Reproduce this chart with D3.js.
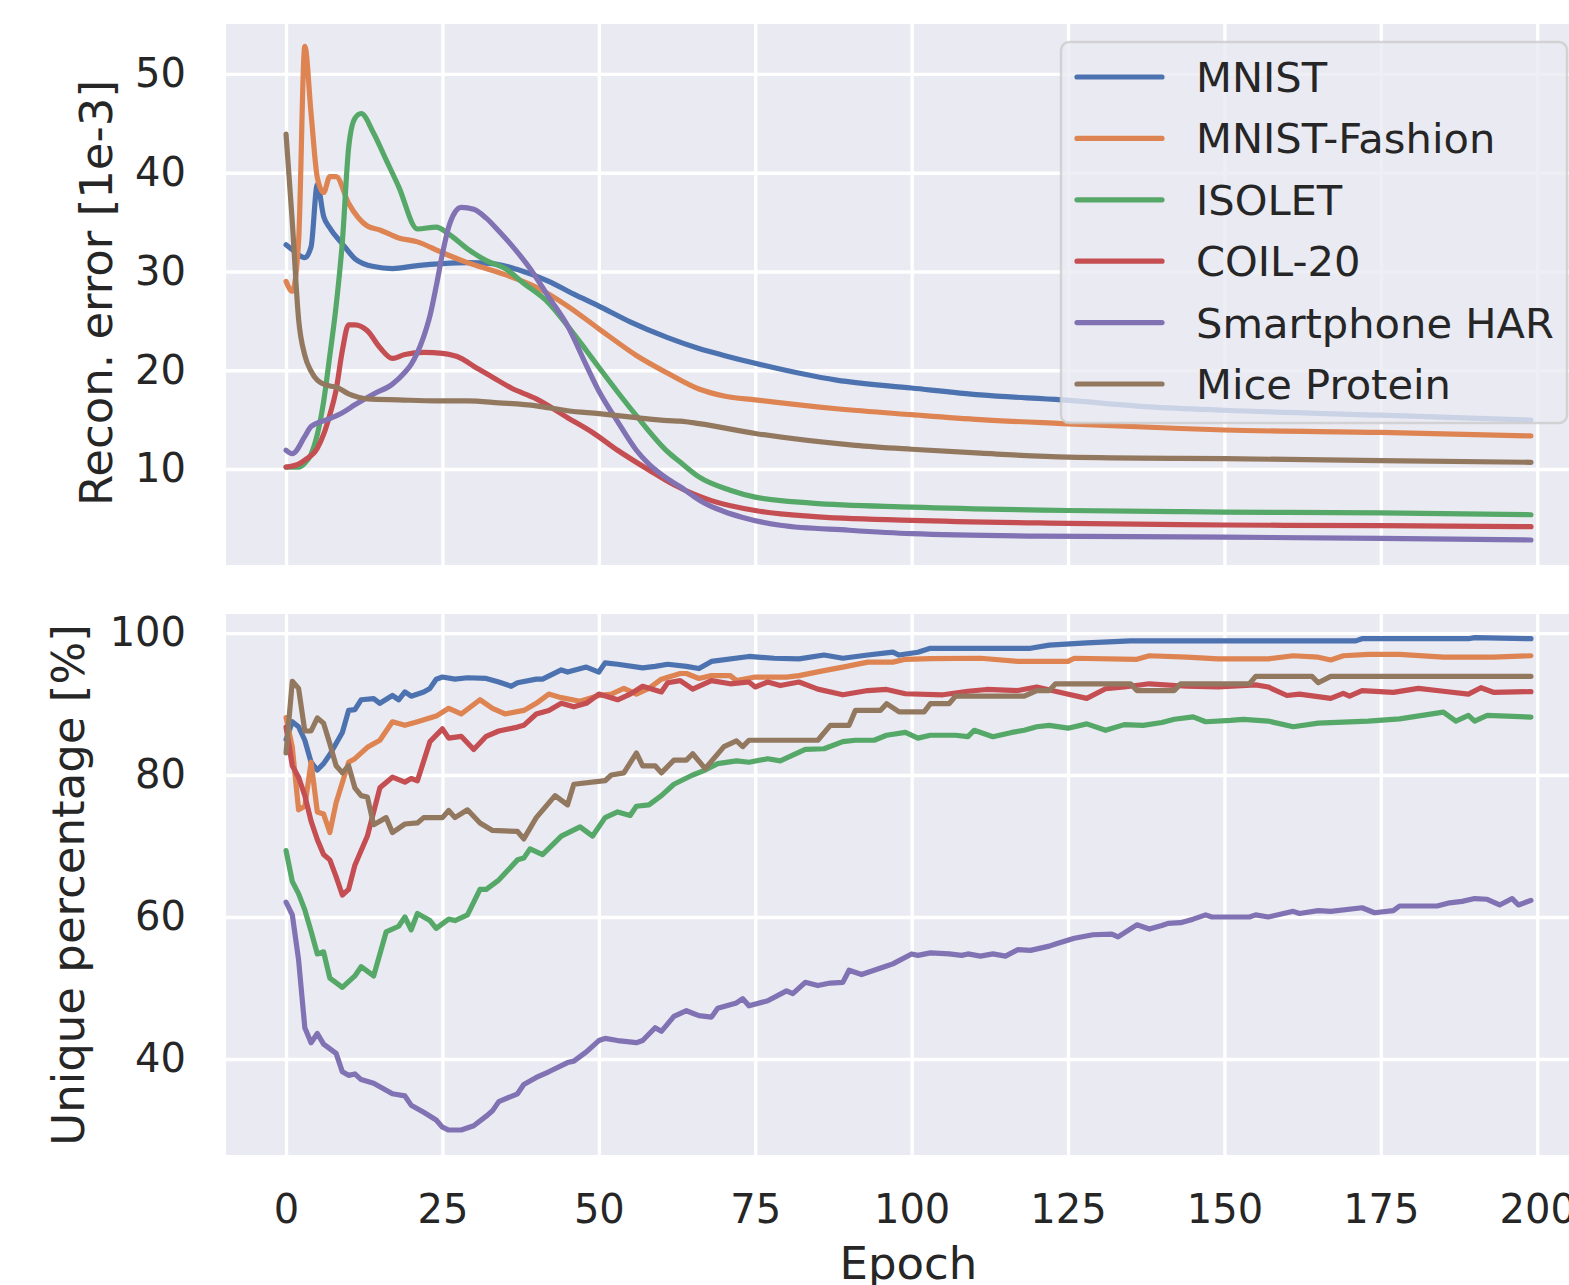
<!DOCTYPE html>
<html><head><meta charset="utf-8">
<script src="https://cdn.jsdelivr.net/npm/d3@7"></script>
<style>body{margin:0;background:#fff} svg{display:block;font-family:"DejaVu Sans",sans-serif}</style>
</head><body>
<svg id="chart" width="1569" height="1285"></svg>
<script>
const seriesNames = ["MNIST","MNIST-Fashion","ISOLET","COIL-20","Smartphone HAR","Mice Protein"];
const seriesColors = ["#4C72B0","#DD8452","#55A868","#C44E52","#8172B3","#937860"];
const xTicks = [0,25,50,75,100,125,150,175,200];
const reconTicks = [10,20,30,40,50];
const uniqueTicks = [40,60,80,100];

// Top panel: reconstruction error [1e-3], pairs [epoch, value]
const reconMNIST = [[0,32.7],[1,32.2],[3,31.4],[4,32.5],[5,38.8],[6,35.6],[7,34.4],[9,32.8],[11,31.3],[14,30.5],[17,30.3],[21,30.6],[25,30.8],[29,30.9],[33,30.8],[37,30.2],[42,29.0],[46,27.7],[50,26.5],[55,24.9],[61,23.3],[66,22.2],[70,21.5],[75,20.7],[88,19.0],[100,18.2],[111,17.5],[124,17.0],[138,16.3],[150,15.95],[175,15.45],[199,14.95]];
const reconFashion = [[0,29.0],[1,28.0],[2,33.0],[3,52.8],[4,46.0],[5,39.5],[6,38.0],[7,39.6],[8,39.6],[10,36.9],[13,34.6],[15,34.2],[18,33.4],[21,33.0],[25,31.9],[29,30.9],[34,29.9],[40,28.4],[45,26.5],[50,24.2],[56,21.5],[61,19.7],[66,18.1],[70,17.4],[75,17.0],[88,16.1],[100,15.5],[111,15.0],[124,14.6],[143,14.1],[150,13.95],[175,13.7],[199,13.35]];
const reconIsolet = [[0,10.2],[2,10.2],[3,10.6],[4,11.5],[5,13.5],[6,16.8],[7,21.5],[8,26.5],[9,33.0],[10,42.5],[11,45.5],[12,46.0],[14,44.0],[16,41.3],[18,38.6],[21,34.3],[24,34.5],[26,33.8],[29,32.3],[32,31.1],[35,30.3],[38,28.8],[42,26.8],[45,24.5],[48,22.0],[50,20.3],[53,17.8],[56,15.4],[61,11.75],[63,10.7],[66,9.2],[71,7.85],[75,7.15],[84,6.55],[100,6.15],[125,5.8],[143,5.68],[150,5.64],[175,5.55],[199,5.37]];
const reconCoil = [[0,10.2],[2,10.5],[3,10.9],[5,12.1],[6,13.5],[7,15.5],[8,18.0],[9,22.0],[10,24.6],[11,24.6],[13,24.0],[15,22.3],[17,21.2],[19,21.6],[22,21.8],[25,21.7],[28,21.2],[30,20.4],[33,19.3],[36,18.2],[40,17.1],[45,15.2],[49,13.7],[53,11.9],[58,9.9],[62,8.4],[65,7.5],[68,6.8],[75,5.8],[84,5.2],[100,4.8],[125,4.5],[143,4.36],[150,4.33],[175,4.26],[199,4.16]];
const reconHar = [[0,11.9],[1,11.55],[3,13.3],[4,14.3],[7,15.1],[9,15.7],[11,16.5],[14,17.6],[17,18.6],[19,19.8],[20,20.6],[22,23.4],[23,25.5],[24,28.5],[25,31.8],[26,34.5],[27,36.0],[28,36.5],[30,36.3],[32,35.4],[34,34.1],[36,32.7],[39,30.3],[42,27.4],[45,24.5],[48,20.5],[50,17.9],[53,14.8],[56,11.9],[58,10.5],[61,9.0],[63,8.2],[65,7.3],[67,6.5],[70,5.7],[73,5.1],[79,4.3],[90,3.8],[100,3.45],[120,3.2],[143,3.12],[150,3.1],[175,2.98],[199,2.81]];
const reconMice = [[0,43.9],[1,35.0],[2,25.2],[3,21.5],[4,19.9],[5,19.0],[7,18.4],[8,18.3],[10,17.6],[13,17.1],[18,17.0],[24,16.9],[29,16.9],[34,16.7],[40,16.4],[45,15.9],[50,15.6],[56,15.2],[61,14.9],[63,14.85],[66,14.6],[75,13.6],[91,12.4],[100,12.0],[111,11.6],[125,11.2],[143,11.07],[150,11.05],[175,10.84],[199,10.68]];

// Bottom panel: unique percentage [%], pairs [epoch, value]
const uniqueMNIST = [[0,85.0],[1,87.5],[2,86.8],[3,84.9],[4,81.8],[5,80.7],[6,81.6],[7,82.9],[9,86.0],[10,89.1],[11,89.2],[12,90.6],[14,90.75],[15,90.1],[17,91.2],[18,90.6],[19,91.7],[20,91.1],[22,91.7],[23,92.2],[24,93.5],[25,93.8],[27,93.5],[29,93.7],[32,93.6],[34,93.1],[36,92.5],[37,93.0],[40,93.5],[41,93.5],[44,94.8],[45,94.5],[48,95.2],[50,94.5],[51,95.8],[53,95.6],[57,95.1],[59,95.3],[61,95.6],[64,95.3],[66,95.0],[68,96.0],[74,96.7],[78,96.45],[82,96.35],[86,96.9],[89,96.45],[93,96.9],[97,97.3],[98,96.9],[101,97.3],[103,97.85],[119,97.85],[122,98.3],[128,98.6],[135,98.9],[171,98.9],[172,99.2],[189,99.2],[190,99.35],[199,99.2]];
const uniqueFashion = [[0,88.1],[1,83.9],[2,75.1],[3,75.6],[4,81.8],[5,74.8],[6,74.5],[7,71.9],[8,76.1],[10,81.8],[11,82.3],[13,83.9],[15,84.9],[17,87.5],[19,87.0],[21,87.5],[24,88.3],[26,89.4],[28,88.6],[31,90.6],[33,89.4],[35,88.6],[38,89.1],[40,90.1],[42,91.4],[44,90.9],[47,90.4],[50,91.2],[52,91.4],[54,92.2],[56,91.4],[58,92.2],[60,93.5],[63,94.3],[64,94.3],[66,93.6],[68,94.0],[71,94.0],[72,93.3],[75,93.8],[80,93.8],[82,94.0],[86,94.7],[89,95.2],[93,95.9],[97,95.9],[99,96.3],[103,96.4],[111,96.45],[117,96.0],[125,96.0],[126,96.45],[136,96.3],[138,96.8],[144,96.6],[149,96.35],[157,96.35],[161,96.8],[165,96.6],[167,96.2],[169,96.8],[173,97.0],[178,97.0],[185,96.6],[193,96.6],[199,96.8]];
const uniqueIsolet = [[0,69.35],[1,65.0],[2,63.3],[3,61.0],[4,58.0],[5,54.8],[6,55.1],[7,51.4],[9,50.1],[11,51.7],[12,53.0],[14,51.7],[16,57.9],[18,58.7],[19,60.0],[20,58.2],[21,60.5],[23,59.5],[24,58.4],[26,59.7],[27,59.5],[29,60.3],[31,63.9],[32,63.9],[34,65.2],[37,68.05],[38,68.3],[39,69.6],[41,68.8],[44,71.4],[47,72.7],[49,71.4],[51,74.0],[53,74.8],[55,74.3],[56,75.6],[58,75.8],[60,77.1],[62,78.7],[65,80.0],[67,80.7],[69,81.6],[72,82.0],[74,81.8],[77,82.3],[79,82.0],[81,82.8],[83,83.6],[86,83.7],[89,84.7],[91,84.9],[94,84.9],[96,85.6],[99,86.0],[101,85.2],[103,85.6],[107,85.6],[109,85.4],[110,86.3],[113,85.4],[116,86.0],[118,86.3],[120,86.8],[122,87.0],[125,86.6],[128,87.2],[131,86.3],[134,87.1],[137,87.0],[140,87.4],[142,87.85],[145,88.2],[147,87.5],[151,87.7],[153,87.85],[157,87.6],[161,86.8],[165,87.3],[173,87.6],[178,87.9],[185,88.85],[187,87.6],[189,88.4],[190,87.6],[192,88.4],[199,88.15]];
const uniqueCoil = [[0,86.75],[1,81.3],[2,79.7],[3,77.1],[4,73.5],[5,70.9],[6,68.8],[7,68.05],[8,65.7],[9,63.1],[10,63.9],[11,67.3],[13,71.4],[15,78.2],[17,79.7],[19,79.0],[20,79.5],[21,79.2],[23,84.7],[25,86.5],[26,85.2],[28,85.45],[30,83.6],[32,85.45],[34,86.2],[37,86.75],[38,87.0],[40,88.6],[42,89.1],[44,90.1],[46,89.6],[48,90.1],[50,91.4],[53,90.6],[55,91.4],[57,92.5],[60,91.7],[61,93.0],[63,93.3],[65,92.1],[68,93.3],[71,92.85],[74,93.1],[75,92.4],[77,93.1],[79,92.6],[82,93.1],[85,92.1],[89,91.3],[93,91.9],[96,92.05],[99,91.45],[105,91.3],[109,91.8],[112,92.05],[117,91.9],[120,92.4],[124,91.6],[128,90.8],[131,92.15],[134,92.4],[138,92.85],[144,92.5],[149,92.4],[155,92.7],[157,92.4],[160,91.2],[162,91.4],[167,90.8],[169,91.5],[170,91.1],[172,91.9],[177,91.65],[181,92.2],[185,91.8],[189,91.4],[191,92.3],[193,91.65],[199,91.75]];
const uniqueHar = [[0,62.1],[1,60.3],[2,54.0],[3,44.4],[4,42.3],[5,43.6],[6,42.1],[8,40.8],[9,38.2],[10,37.7],[11,37.9],[12,37.1],[14,36.6],[16,35.6],[17,35.1],[19,34.8],[20,33.5],[22,32.5],[24,31.4],[25,30.4],[26,30.0],[28,30.0],[30,30.6],[32,31.95],[33,32.7],[34,34.0],[37,35.1],[38,36.4],[40,37.4],[42,38.2],[45,39.5],[46,39.7],[48,41.0],[50,42.6],[51,42.9],[53,42.6],[56,42.3],[57,42.6],[59,44.4],[60,43.9],[62,46.0],[64,46.8],[66,46.1],[68,45.9],[69,47.15],[72,47.9],[73,48.5],[74,47.5],[77,48.2],[80,49.6],[81,49.2],[83,50.8],[85,50.35],[87,50.7],[89,50.8],[90,52.5],[92,51.9],[94,52.5],[96,53.1],[97,53.4],[100,54.8],[101,54.6],[103,54.95],[106,54.8],[108,54.6],[109,54.8],[111,54.5],[113,54.8],[115,54.5],[117,55.4],[119,55.3],[122,55.9],[123,56.2],[126,57.0],[129,57.5],[132,57.6],[133,57.2],[136,58.9],[138,58.3],[140,58.8],[141,59.1],[143,59.2],[145,59.7],[147,60.3],[148,60.0],[154,60.0],[155,60.3],[157,60.0],[161,60.8],[162,60.5],[165,60.9],[167,60.8],[172,61.3],[174,60.6],[177,60.9],[178,61.55],[184,61.55],[186,62.0],[188,62.2],[190,62.6],[192,62.5],[194,61.7],[196,62.6],[197,61.7],[199,62.35]];
const uniqueMice = [[0,83.1],[1,93.2],[2,92.2],[3,86.2],[4,86.2],[5,88.05],[6,87.3],[7,84.4],[8,81.3],[9,80.3],[10,81.3],[11,78.2],[12,77.1],[13,76.9],[14,73.0],[16,74.0],[17,71.9],[19,73.1],[21,73.25],[22,74.0],[25,74.0],[26,75.0],[27,74.0],[29,75.1],[31,73.25],[33,72.2],[37,72.05],[38,71.0],[40,74.0],[43,77.1],[45,75.8],[46,78.7],[51,79.2],[52,80.0],[54,80.3],[56,83.1],[57,81.3],[59,81.3],[60,80.3],[62,82.1],[64,82.1],[65,83.0],[67,80.9],[70,84.0],[72,84.8],[73,84.0],[74,84.9],[85,84.9],[87,87.0],[90,87.0],[91,89.1],[95,89.1],[96,90.05],[98,88.9],[102,88.9],[103,90.05],[106,90.05],[107,91.1],[118,91.1],[120,91.9],[122,91.9],[123,92.85],[135,92.85],[136,91.9],[142,91.9],[143,92.85],[154,92.85],[155,93.9],[164,93.9],[165,93.0],[167,93.9],[199,93.9]];

const reconSeries = [reconMNIST, reconFashion, reconIsolet, reconCoil, reconHar, reconMice];
const uniqueSeries = [uniqueMNIST, uniqueFashion, uniqueIsolet, uniqueCoil, uniqueHar, uniqueMice];

const svg = d3.select("#chart");
svg.append("rect").attr("width",1569).attr("height",1285).attr("fill","#ffffff");

const L = 226, R = 1591;
const x = d3.scaleLinear().domain([-9.6, 208.6]).range([L, R]);
const yTop = d3.scaleLinear().domain([0.28, 55.06]).range([565, 24]);
const yBot = d3.scaleLinear().domain([26.48, 102.68]).range([1155, 614]);
const textColor = "#262626";

function panel(y, ticks, series, curve, idx) {
  const [b, t] = y.range();
  const g = svg.append("g");
  g.append("rect").attr("x", L).attr("y", t).attr("width", R - L).attr("height", b - t).attr("fill", "#EAEAF2");
  const cid = "clip" + idx;
  svg.append("clipPath").attr("id", cid).append("rect").attr("x", L).attr("y", t).attr("width", R - L).attr("height", b - t);
  const gx = g.append("g").attr("transform", `translate(0,${b})`)
    .call(d3.axisBottom(x).tickValues(xTicks).tickSize(-(b - t)).tickFormat(""));
  gx.select(".domain").remove();
  gx.selectAll("line").attr("stroke", "#ffffff").attr("stroke-width", 3.3);
  const gy = g.append("g").attr("transform", `translate(${L},0)`)
    .call(d3.axisLeft(y).tickValues(ticks).tickSize(-(R - L)).tickPadding(40).tickFormat(d3.format("d")));
  gy.select(".domain").remove();
  gy.selectAll("line").attr("stroke", "#ffffff").attr("stroke-width", 3.3);
  gy.selectAll("text").attr("fill", textColor).attr("font-size", 40).attr("font-family", "DejaVu Sans");
  const line = d3.line().x(d => x(d[0])).y(d => y(d[1])).curve(curve);
  const lg = g.append("g").attr("clip-path", `url(#${cid})`);
  series.forEach((s, i) => {
    lg.append("path").datum(s).attr("d", line).attr("fill", "none")
      .attr("stroke", seriesColors[i]).attr("stroke-width", 5.2)
      .attr("stroke-linejoin", "round").attr("stroke-linecap", "round");
  });
  return g;
}

panel(yTop, reconTicks, reconSeries, d3.curveMonotoneX, 0);
panel(yBot, uniqueTicks, uniqueSeries, d3.curveLinear, 1);

const xa = svg.append("g").attr("transform", "translate(0,1155)")
  .call(d3.axisBottom(x).tickValues(xTicks).tickSize(0).tickPadding(40).tickFormat(d3.format("d")));
xa.select(".domain").remove();
xa.selectAll("text").attr("fill", textColor).attr("font-size", 40).attr("font-family", "DejaVu Sans");

svg.append("text").attr("x", (L + R) / 2).attr("y", 1279).attr("text-anchor", "middle")
  .attr("font-size", 45).attr("fill", textColor).text("Epoch");
svg.append("text").attr("transform", "translate(112,293) rotate(-90)").attr("text-anchor", "middle")
  .attr("font-size", 45).attr("fill", textColor).text("Recon. error [1e-3]");
svg.append("text").attr("transform", "translate(84,885) rotate(-90)").attr("text-anchor", "middle")
  .attr("font-size", 45).attr("fill", textColor).text("Unique percentage [%]");

const leg = svg.append("g");
leg.append("rect").attr("x", 1061).attr("y", 42).attr("width", 506).attr("height", 381).attr("rx", 8)
  .attr("fill", "#EAEAF2").attr("fill-opacity", 0.8).attr("stroke", "#CCCCCC").attr("stroke-opacity", 0.8).attr("stroke-width", 2.5);
seriesNames.forEach((n, i) => {
  const yy = 77 + i * 61.4;
  leg.append("line").attr("x1", 1077).attr("x2", 1162).attr("y1", yy).attr("y2", yy)
    .attr("stroke", seriesColors[i]).attr("stroke-width", 5.2).attr("stroke-linecap", "round");
  leg.append("text").attr("x", 1196).attr("y", yy).attr("dy", "0.36em").attr("font-size", 41.6)
    .attr("fill", textColor).text(n);
});
</script>
</body></html>
